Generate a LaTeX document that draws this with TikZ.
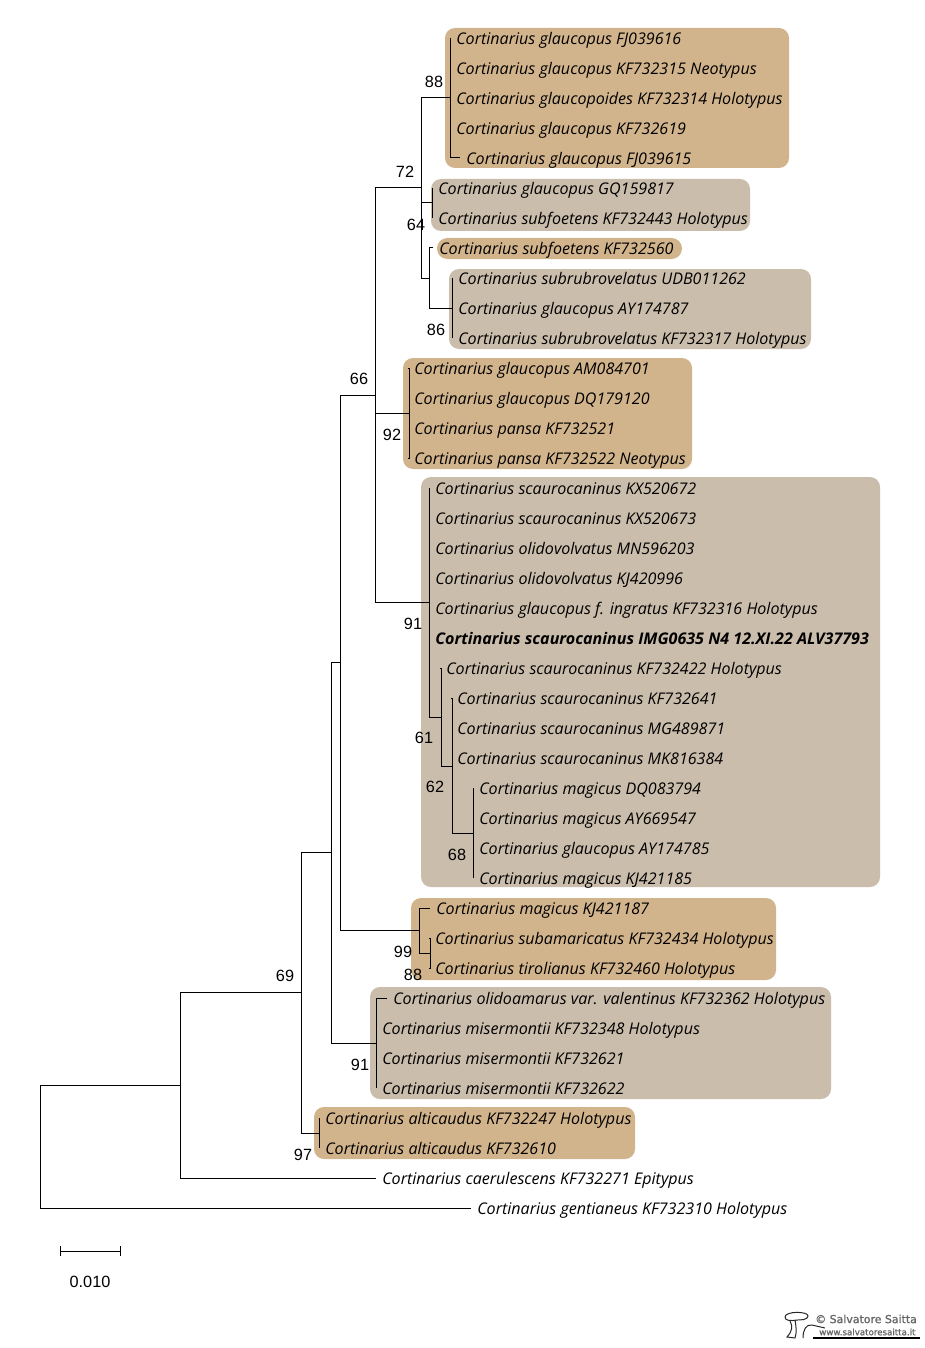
\documentclass[tikz,border=0pt]{standalone}
\usepackage{fontspec}
\setmainfont{Open Sans}
\newfontfamily\numfont{Liberation Sans}
\newfontfamily\markfont[FakeBold=1.2]{DejaVu Sans}
\definecolor{tanbox}{HTML}{D2B48C}
\definecolor{greybox}{HTML}{CBBDAB}
\tikzset{
 boxfill/.style={rounded corners=7.5pt},
 branch/.style={draw=black,line width=0.75pt},
 leaf/.style={anchor=west,inner xsep=4.5pt,inner ysep=0pt,text height=10.4pt,text depth=0.6pt,font=\fontsize{12.05pt}{14pt}\selectfont\itshape},
 boldleaf/.style={leaf,font=\fontsize{12.05pt}{14pt}\selectfont\itshape\bfseries},
 support/.style={inner sep=0pt,font=\fontsize{12.2pt}{14pt}\selectfont\numfont},
 markone/.style={inner sep=0pt,anchor=west,font=\fontsize{8.2pt}{9pt}\selectfont\markfont,text=black!60},
 marktwo/.style={inner sep=0pt,anchor=west,font=\fontsize{6.5pt}{8pt}\selectfont\markfont,text=black!60}
}
\begin{document}
\begin{tikzpicture}[x=0.75pt,y=-0.75pt]
\useasboundingbox (0,0) rectangle (924,1348);
\fill[white] (0,0) rectangle (924,1348);
% shaded groups
\fill[tanbox,boxfill] (445,28) rectangle (789,168);
\fill[greybox,boxfill] (431,179) rectangle (750,231);
\fill[tanbox,rounded corners=7.8pt] (437,238) rectangle (682,259);
\fill[greybox,boxfill] (449,269) rectangle (811,349);
\fill[tanbox,boxfill] (403,358) rectangle (692,469);
\fill[greybox,boxfill] (421,477) rectangle (880,887);
\fill[tanbox,boxfill] (411,898) rectangle (776,980);
\fill[greybox,boxfill] (370,987) rectangle (831,1099);
\fill[tanbox,boxfill] (314,1107) rectangle (635,1159);
% internal nodes
\coordinate (root) at (40,1147);
\coordinate (n1) at (180,1085);
\coordinate (n2) at (301,992);
\coordinate (n3) at (319,1133);
\coordinate (n4) at (331,852);
\coordinate (n5) at (340,662);
\coordinate (n6) at (375,395);
\coordinate (n7) at (421,188);
\coordinate (c88) at (450,98);
\coordinate (c64) at (432,203);
\coordinate (c29) at (429,278);
\coordinate (c86) at (452,308);
\coordinate (c92) at (409,413);
\coordinate (c91) at (429,602);
\coordinate (c61) at (441,717);
\coordinate (c62) at (452,766);
\coordinate (c68) at (473,833);
\coordinate (c99) at (419,930);
\coordinate (c88b) at (430,953);
\coordinate (c91b) at (376,1043);
% leaves
\node[leaf] (a1) at (450,38) {Cortinarius glaucopus FJ039616};
\node[leaf] (a2) at (450,68) {Cortinarius glaucopus KF732315 Neotypus};
\node[leaf] (a3) at (450,98) {Cortinarius glaucopoides KF732314 Holotypus};
\node[leaf] (a4) at (450,128) {Cortinarius glaucopus KF732619};
\node[leaf] (a5) at (460,158) {Cortinarius glaucopus FJ039615};
\node[leaf] (b1) at (432,188) {Cortinarius glaucopus GQ159817};
\node[leaf] (b2) at (432,218) {Cortinarius subfoetens KF732443 Holotypus};
\node[leaf] (b3) at (433,248) {Cortinarius subfoetens KF732560};
\node[leaf] (d1) at (452,278) {Cortinarius subrubrovelatus UDB011262};
\node[leaf] (d2) at (452,308) {Cortinarius glaucopus AY174787};
\node[leaf] (d3) at (452,338) {Cortinarius subrubrovelatus KF732317 Holotypus};
\node[leaf] (e1) at (408,368) {Cortinarius glaucopus AM084701};
\node[leaf] (e2) at (408,398) {Cortinarius glaucopus DQ179120};
\node[leaf] (e3) at (408,428) {Cortinarius pansa KF732521};
\node[leaf] (e4) at (408,458) {Cortinarius pansa KF732522 Neotypus};
\node[leaf] (f1) at (429,488) {Cortinarius scaurocaninus KX520672};
\node[leaf] (f2) at (429,518) {Cortinarius scaurocaninus KX520673};
\node[leaf] (f3) at (429,548) {Cortinarius olidovolvatus MN596203};
\node[leaf] (f4) at (429,578) {Cortinarius olidovolvatus KJ420996};
\node[leaf] (f5) at (429,608) {Cortinarius glaucopus f. ingratus KF732316 Holotypus};
\node[boldleaf] (f6) at (429,638) {Cortinarius scaurocaninus IMG0635 N4 12.XI.22 ALV37793};
\node[leaf] (f7) at (440,668) {Cortinarius scaurocaninus KF732422 Holotypus};
\node[leaf] (f8) at (451,698) {Cortinarius scaurocaninus KF732641};
\node[leaf] (f9) at (451,728) {Cortinarius scaurocaninus MG489871};
\node[leaf] (f10) at (451,758) {Cortinarius scaurocaninus MK816384};
\node[leaf] (g1) at (473,788) {Cortinarius magicus DQ083794};
\node[leaf] (g2) at (473,818) {Cortinarius magicus AY669547};
\node[leaf] (g3) at (473,848) {Cortinarius glaucopus AY174785};
\node[leaf] (g4) at (473,878) {Cortinarius magicus KJ421185};
\node[leaf] (h1) at (430,908) {Cortinarius magicus KJ421187};
\node[leaf] (h2) at (429,938) {Cortinarius subamaricatus KF732434 Holotypus};
\node[leaf] (h3) at (429,968) {Cortinarius tirolianus KF732460 Holotypus};
\node[leaf] (i1) at (387,998) {Cortinarius olidoamarus var. valentinus KF732362 Holotypus};
\node[leaf] (i2) at (376,1028) {Cortinarius misermontii KF732348 Holotypus};
\node[leaf] (i3) at (376,1058) {Cortinarius misermontii KF732621};
\node[leaf] (i4) at (376,1088) {Cortinarius misermontii KF732622};
\node[leaf] (j1) at (319,1118) {Cortinarius alticaudus KF732247 Holotypus};
\node[leaf] (j2) at (319,1148) {Cortinarius alticaudus KF732610};
\node[leaf] (k1) at (376,1178) {Cortinarius caerulescens KF732271 Epitypus};
\node[leaf] (k2) at (471,1208) {Cortinarius gentianeus KF732310 Holotypus};
% tree
\draw[branch] (root) |- (n1);
\draw[branch] (root) |- (k2.west);
\draw[branch] (n1) |- (n2);
\draw[branch] (n1) |- (k1.west);
\draw[branch] (n2) |- (n4);
\draw[branch] (n2) |- (n3);
\draw[branch] (n3) |- (j1.west);
\draw[branch] (n3) |- (j2.west);
\draw[branch] (n4) |- (n5);
\draw[branch] (n4) |- (c91b);
\draw[branch] (n5) |- (n6);
\draw[branch] (n5) |- (c99);
\draw[branch] (n6) |- (n7);
\draw[branch] (n6) |- (c92);
\draw[branch] (n6) |- (c91);
\draw[branch] (n7) |- (c88);
\draw[branch] (n7) |- (c64);
\draw[branch] (n7) |- (c29);
\draw[branch] (c88) |- (a1.west);
\draw[branch] (c88) |- (a5.west);
\draw[branch] (c64) |- (b1.west);
\draw[branch] (c64) |- (b2.west);
\draw[branch] (c29) |- (b3.west);
\draw[branch] (c29) |- (c86);
\draw[branch] (c86) |- (d1.west);
\draw[branch] (c86) |- (d3.west);
\draw[branch] (c92) |- (e1.west);
\draw[branch] (c92) |- (e4.west);
\draw[branch] (c91) |- (f1.west);
\draw[branch] (c91) |- (c61);
\draw[branch] (c61) |- (f7.west);
\draw[branch] (c61) |- (c62);
\draw[branch] (c62) |- (f8.west);
\draw[branch] (c62) |- (c68);
\draw[branch] (c68) |- (g1.west);
\draw[branch] (c68) |- (g4.west);
\draw[branch] (c99) |- (h1.west);
\draw[branch] (c99) |- (c88b);
\draw[branch] (c88b) |- (h2.west);
\draw[branch] (c88b) |- (h3.west);
\draw[branch] (c91b) |- (i1.west);
\draw[branch] (c91b) |- (i4.west);
% support values
\node[support] (s1) at (434,82) {88};
\node[support] (s2) at (405,172) {72};
\node[support] (s3) at (416,225) {64};
\node[support] (s4) at (436,330) {86};
\node[support] (s5) at (359,379) {66};
\node[support] (s6) at (392,435) {92};
\node[support] (s7) at (413,624) {91};
\node[support] (s8) at (424,738) {61};
\node[support] (s9) at (435,787) {62};
\node[support] (s10) at (457,855) {68};
\node[support] (s11) at (403,952) {99};
\node[support] (s12) at (413,975) {88};
\node[support] (s13) at (360,1065) {91};
\node[support] (s14) at (285,976) {69};
\node[support] (s15) at (303,1155) {97};
% scale bar
\coordinate (sl) at (60,1251);
\coordinate (sr) at (120,1251);
\draw[branch] (sl) -- (sr);
\draw[branch] ([yshift=-3.75pt]sl) -- ([yshift=3.75pt]sl);
\draw[branch] ([yshift=-3.75pt]sr) -- ([yshift=3.75pt]sr);
\node[support] (sv) at (90,1282) {0.010};
% watermark
\node[markone] (w1) at (815,1319) {© Salvatore Saitta};
\node[marktwo] (w2) at (819,1332) {www.salvatoresaitta.it};
\draw[line width=0.75pt,black!85] (785,1317) .. controls (785,1311) and (808,1311) .. (808,1316) .. controls (808,1320) and (800,1320) .. (797,1320) .. controls (791,1321) and (785,1321) .. (785,1317);
\draw[line width=0.75pt,black!85] (790,1321) .. controls (793,1326) and (792,1332) .. (787,1337) -- (795,1338) .. controls (797,1332) and (796,1326) .. (795,1320);
\draw[line width=0.75pt,black!85] (803,1338) .. controls (803,1330) and (806,1324) .. (812,1325) -- (825,1328);
\draw[line width=0.9pt,black] (813,1338) -- (920,1338);
\end{tikzpicture}
\end{document}
